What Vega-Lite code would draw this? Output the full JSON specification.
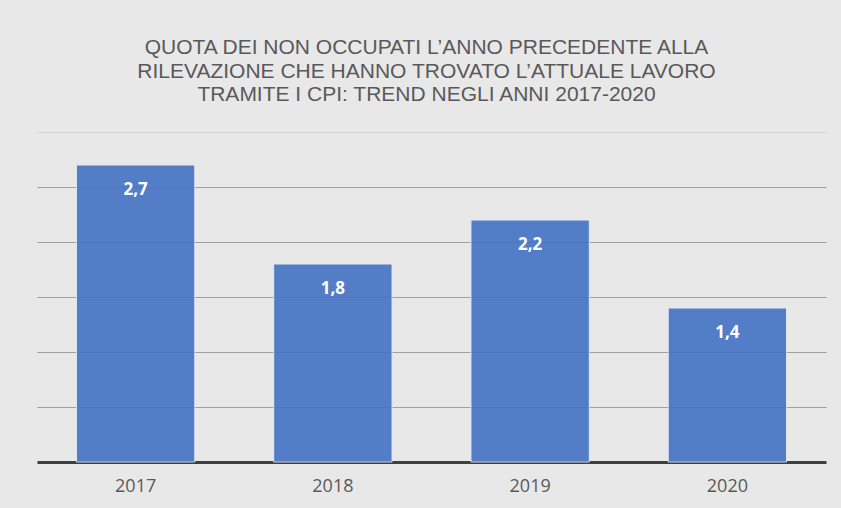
{
  "$schema": "https://vega.github.io/schema/vega-lite/v6.json",
  "width": 789,
  "height": 330,
  "autosize": {"type": "none"},
  "padding": {"left": 37, "top": 132, "right": 15, "bottom": 46},
  "background": "#e8e8e8",
  "config": {
    "view": {"stroke": null},
    "locale": {"number": {"decimal": ",", "thousands": ".", "grouping": [3], "currency": ["", " €"]}}
  },
  "title": {
    "text": ["QUOTA DEI NON OCCUPATI L’ANNO PRECEDENTE ALLA", "RILEVAZIONE CHE HANNO  TROVATO L’ATTUALE LAVORO", "TRAMITE I CPI: TREND NEGLI ANNI 2017-2020\u00a0\u00a0\u00a0\u00a0\u00a0"],
    "font": "Liberation Sans",
    "fontSize": 21,
    "fontWeight": "normal",
    "color": "#595959",
    "lineHeight": 23.5,
    "anchor": "middle",
    "dx": -5,
    "offset": 27
  },
  "data": {
    "values": [
      {"anno": "2017", "quota": 2.7},
      {"anno": "2018", "quota": 1.8},
      {"anno": "2019", "quota": 2.2},
      {"anno": "2020", "quota": 1.4}
    ]
  },
  "encoding": {
    "x": {
      "field": "anno",
      "type": "nominal",
      "scale": {"paddingInner": 0.4, "paddingOuter": 0.2},
      "axis": {
        "title": null,
        "labelAngle": 0,
        "ticks": false,
        "domainColor": "#404040",
        "domainWidth": 3,
        "labelFont": "Open Sans",
        "labelFontSize": 18,
        "labelColor": "#595959",
        "labelPadding": 15
      }
    },
    "y": {
      "field": "quota",
      "type": "quantitative",
      "scale": {"domain": [0, 3]},
      "axis": {
        "title": null,
        "labels": false,
        "ticks": false,
        "domain": false,
        "values": [0.5, 1, 1.5, 2, 2.5, 3],
        "gridColor": {"condition": {"test": "datum.value >= 3", "value": "#d2d2d2"}, "value": "#a0a0a0"},
        "gridWidth": 1
      }
    }
  },
  "layer": [
    {
      "mark": {"type": "bar", "color": "#4472C4", "opacity": 0.9, "stroke": "#e4eaf5", "strokeWidth": 1}
    },
    {
      "mark": {"type": "text", "color": "#ffffff", "font": "Open Sans", "fontWeight": "bold", "fontSize": 17, "baseline": "middle", "dy": 25},
      "encoding": {"text": {"field": "quota", "type": "quantitative", "format": ".1f"}}
    }
  ]
}
